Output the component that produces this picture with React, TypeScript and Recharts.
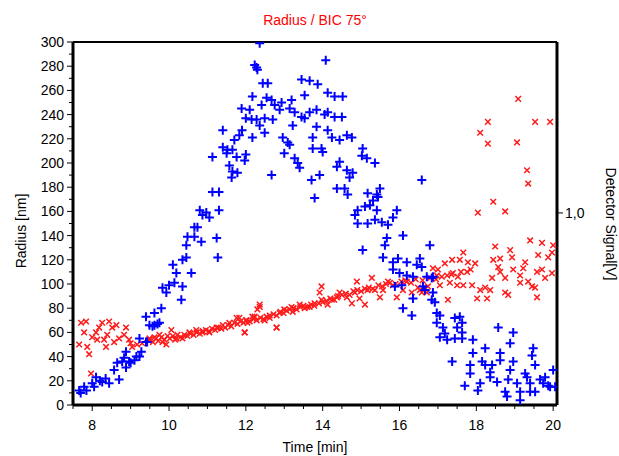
import { ScatterChart, Scatter, XAxis, YAxis, ReferenceLine } from 'recharts'

// blue "+" series: time [min], radius [nm]
const blueTime = [
  7.66, 7.79, 8.0, 8.1, 8.26, 8.44, 8.7, 8.57, 8.65, 8.78, 8.88, 9.0, 9.1, 9.23, 9.28, 8.88, 8.83, 9.23, 9.4, 9.49,
  9.62, 9.75, 9.4, 9.8, 9.83, 9.93, 10.0, 10.14, 10.35, 10.32, 10.19, 10.1, 10.35, 10.45, 10.58, 10.45, 10.48, 10.66, 10.84, 10.66,
  10.74, 10.87, 11.05, 10.8, 11.3, 11.24, 11.27, 12.28, 12.17, 11.89, 12.1, 12.0, 12.15, 12.28, 11.4, 11.9, 11.83, 12.17, 11.7, 11.4,
  11.52, 11.65, 11.5, 11.13, 11.76, 12.0, 11.97, 11.57, 11.65, 11.78, 11.63, 11.13, 11.3, 10.97, 12.36, 12.23, 12.3, 12.44, 12.57, 12.54,
  12.67, 12.41, 12.75, 12.93, 13.19, 12.88, 13.14, 13.27, 12.49, 12.7, 12.36, 13.45, 13.53, 13.66, 13.84, 13.53, 13.45, 13.66, 13.87, 14.08,
  14.13, 14.31, 14.52, 14.05, 14.13, 14.31, 14.5, 13.22, 13.84, 12.49, 12.96, 13.09, 13.14, 13.74, 13.74, 13.97, 14.0, 13.0, 14.13, 14.24,
  14.44, 14.63, 14.76, 15.04, 15.02, 15.15, 15.36, 13.27, 13.35, 13.4, 12.67, 13.71, 13.92, 14.37, 14.44, 14.63, 14.78, 14.7, 14.37, 14.57,
  14.65, 13.79, 15.17, 15.41, 15.49, 15.44, 15.31, 15.23, 15.1, 14.91, 14.84, 15.41, 15.93, 16.58, 14.91, 15.17, 15.36, 15.54, 15.7, 15.83,
  16.09, 15.67, 15.62, 15.04, 15.57, 16.79, 15.83, 15.96, 16.19, 16.53, 16.45, 16.58, 15.83, 16.0, 16.19, 16.35, 16.71, 16.84, 15.88, 16.06,
  16.61, 16.35, 16.84, 16.09, 16.32, 16.97, 16.97, 17.05, 16.87, 16.66, 16.87, 16.92, 17.05, 17.13, 17.18, 17.24, 17.44, 17.57, 17.63, 17.5,
  17.63, 17.44, 17.63, 17.91, 17.37, 17.91, 18.23, 18.57, 18.96, 18.88, 18.62, 17.84, 18.15, 18.23, 18.41, 18.62, 18.96, 19.48, 19.45, 19.53,
  20.0, 17.84, 18.36, 18.36, 18.88, 19.27, 19.32, 19.79, 17.7, 18.1, 18.04, 18.54, 18.83, 19.06, 19.4, 19.66, 19.74, 19.87, 20.05, 18.75,
  18.8, 19.14, 19.14, 19.4, 19.53, 19.92, 9.57, 9.7, 9.62, 9.43, 9.15, 8.96, 7.7, 7.85, 8.05, 8.2, 8.35,
]
const blueRadius = [
  12, 15, 18, 23, 19, 18, 21, 29, 35, 36, 31, 35, 37, 40, 44, 44, 39, 55, 52, 66,
  66, 68, 73, 80, 97, 93, 99, 101, 98, 87, 109, 116, 120, 122, 109, 132, 139, 139, 135, 147,
  147, 157, 155, 161, 161, 138, 122, 279, 255, 245, 244, 237, 236, 236, 227, 227, 223, 221, 219, 213,
  211, 211, 208, 205, 205, 207, 202, 198, 193, 192, 188, 176, 176, 159, 299, 281, 277, 266, 266, 254,
  252, 248, 248, 250, 252, 244, 245, 242, 237, 236, 231, 238, 237, 242, 244, 256, 269, 268, 265, 285,
  258, 255, 255, 240, 242, 238, 238, 231, 230, 225, 221, 217, 215, 221, 212, 212, 209, 208, 227, 221,
  219, 223, 221, 212, 206, 204, 200, 204, 200, 196, 190, 186, 190, 197, 201, 194, 192, 188, 179, 179,
  174, 171, 175, 174, 179, 172, 169, 165, 164, 161, 157, 161, 161, 186, 150, 150, 153, 151, 149, 155,
  140, 138, 132, 128, 122, 132, 118, 121, 118, 121, 116, 114, 112, 109, 107, 106, 106, 105, 98, 99,
  98, 88, 87, 80, 74, 76, 68, 56, 106, 95, 93, 85, 74, 64, 59, 54, 72, 73, 68, 64,
  60, 55, 55, 54, 36, 43, 47, 64, 60, 51, 43, 33, 36, 33, 33, 37, 36, 47, 41, 33,
  29, 26, 27, 23, 29, 26, 23, 23, 16, 18, 12, 19, 21, 18, 18, 21, 18, 16, 15, 11,
  7, 11, 4, 11, 11, 15, 65, 67, 76, 52, 40, 36, 10, 12, 15, 20, 22,
]

// red "x" series: time [min], radius [nm]
const redTime = [
  7.71, 7.84, 7.79, 7.66, 7.87, 7.92, 8.0, 8.1, 8.13, 8.18, 8.26, 8.31, 8.39, 8.44, 8.52, 8.63, 8.36, 8.57, 8.7, 8.88,
  8.83, 8.96, 9.0, 9.04, 9.17, 9.3, 9.49, 9.62, 9.75, 9.93, 9.83, 10.06, 10.19, 10.35, 10.53, 10.71, 10.87, 11.05, 11.24, 11.4,
  11.57, 11.76, 11.97, 12.0, 12.17, 12.3, 7.97, 11.83, 12.04, 12.23, 12.36, 12.49, 12.62, 12.8, 12.88, 13.0, 13.19, 13.22, 13.4, 13.53,
  13.66, 13.79, 13.97, 13.97, 13.92, 14.13, 14.24, 14.37, 14.44, 14.63, 14.76, 14.84, 14.89, 14.96, 15.1, 15.17, 15.28, 15.36, 15.49, 15.57,
  15.7, 15.83, 15.93, 16.09, 16.19, 16.32, 16.48, 16.58, 16.74, 16.87, 16.97, 18.49, 19.4, 19.71, 20.0, 17.37, 17.66, 17.57, 17.78, 17.97,
  18.44, 18.62, 18.88, 18.93, 19.27, 19.61, 19.87, 19.97, 18.57, 18.62, 18.96, 19.22, 17.18, 17.0, 17.24, 17.39, 17.76, 17.52, 17.66, 17.5,
  17.05, 17.31, 17.89, 18.1, 18.23, 18.36, 18.02, 18.28, 18.41, 18.75, 18.75, 18.83, 19.14, 19.14, 19.35, 19.45, 19.53, 19.58, 19.58, 19.71,
  19.79, 19.97, 17.26, 16.71, 16.53, 18.04, 18.75, 19.09, 18.3, 19.53, 19.92, 18.1, 18.3, 19.06, 19.32, 19.35, 18.44,
  9.5, 9.58, 9.66, 9.72, 9.8, 9.88, 9.96, 10.02, 10.1, 10.16, 10.22, 10.3, 10.4, 10.48, 10.56, 10.64, 10.72, 10.8, 10.88, 10.96,
  11.04, 11.12, 11.2, 11.28, 11.36, 11.46, 11.54, 11.62, 11.7, 11.78, 11.86, 11.94, 12.02, 12.1, 12.2, 12.28, 12.38, 12.46, 12.54, 12.62,
  12.72, 12.8, 12.9, 12.98, 13.06, 13.14, 13.24, 13.32, 13.42, 13.5, 13.6, 13.7, 13.78, 13.9, 14.0, 14.1, 14.2, 14.3, 14.4, 14.5,
  14.6, 14.7, 14.8, 14.9, 15.0, 15.1, 15.2, 15.3, 15.45, 15.55, 15.65, 15.75, 15.9, 16.05, 16.15, 16.3, 16.42, 16.6, 16.8, 16.95,
  17.1, 17.35, 17.6, 17.85, 12.36, 12.8, 11.97,
]
const redRadius = [
  68, 69, 60, 50, 48, 42, 56, 60, 54, 64, 68, 54, 58, 69, 64, 66, 48, 52, 55, 64,
  58, 54, 51, 48, 50, 51, 55, 56, 58, 50, 52, 62, 55, 55, 60, 62, 60, 60, 64, 66,
  68, 72, 60, 70, 73, 79, 26, 72, 68, 73, 81, 70, 72, 64, 76, 79, 81, 77, 83, 80,
  81, 84, 87, 98, 93, 83, 87, 89, 93, 89, 84, 93, 102, 88, 83, 95, 105, 95, 89, 95,
  102, 99, 89, 95, 102, 93, 97, 93, 98, 113, 107, 131, 136, 134, 132, 120, 126, 120, 118, 117,
  120, 121, 128, 122, 118, 124, 122, 126, 114, 110, 112, 113, 117, 112, 107, 109, 110, 106, 99, 99,
  99, 101, 99, 95, 97, 95, 88, 88, 105, 105, 93, 91, 107, 101, 102, 98, 97, 89, 110, 112,
  105, 109, 87, 93, 95, 159, 160, 253, 234, 234, 234, 225, 216, 217, 194, 183, 168,
  54, 52, 55, 53, 56, 54, 57, 55, 57, 54, 58, 56, 58, 57, 59, 58, 60, 59, 61, 62,
  61, 63, 62, 64, 63, 64, 66, 65, 68, 67, 69, 68, 70, 69, 71, 70, 72, 71, 73, 74,
  75, 74, 77, 76, 78, 79, 80, 79, 81, 82, 81, 83, 82, 84, 85, 86, 88, 87, 90, 91,
  92, 91, 94, 95, 94, 96, 97, 96, 99, 98, 100, 101, 100, 102, 103, 101, 104, 103, 105, 104,
  106, 108, 110, 112, 83, 64, 60,
]

const xTicks = [7.5, 8, 8.5, 9, 9.5, 10, 10.5, 11, 11.5, 12, 12.5, 13, 13.5, 14, 14.5, 15, 15.5, 16, 16.5, 17, 17.5, 18, 18.5, 19, 19.5, 20]
const xLabels = [8, 10, 12, 14, 16, 18, 20]
const yTicks = [0, 10, 20, 30, 40, 50, 60, 70, 80, 90, 100, 110, 120, 130, 140, 150, 160, 170, 180, 190, 200, 210, 220, 230, 240, 250, 260, 270, 280, 290, 300]
const rightTicks = [1]

const blueData = blueTime.map((t, i) => ({ t, r: blueRadius[i] }))
const redData = redTime.map((t, i) => ({ t, r: redRadius[i] }))

const FONT = '"Liberation Sans", Arial, sans-serif'

function PlusMark(props: any) {
  const { cx, cy } = props
  return <path d={`M${cx - 4.5},${cy}h9M${cx},${cy - 4.5}v9`} stroke="#0000ff" strokeWidth={2} fill="none" />
}

function CrossMark(props: any) {
  const { cx, cy } = props
  return (
    <path
      d={`M${cx - 2.8},${cy - 2.8}l5.6,5.6M${cx + 2.8},${cy - 2.8}l-5.6,5.6`}
      stroke="#ff1a1a"
      strokeWidth={1.5}
      fill="none"
    />
  )
}

function TimeTick({ x, y, payload }: any) {
  const v = payload.value
  const major = xLabels.includes(v)
  return (
    <g>
      <line x1={x} x2={x} y1={y} y2={y + (major ? 6 : 4)} stroke="#000" />
      {major && (
        <text x={x} y={y + 25} textAnchor="middle" fontSize={14} fontFamily={FONT} fill="#000">
          {v}
        </text>
      )}
    </g>
  )
}

function RadiusTick({ x, y, payload }: any) {
  const v = payload.value
  const major = v % 20 === 0
  return (
    <g>
      <line x1={x} x2={x - (major ? 6 : 4)} y1={y} y2={y} stroke="#000" />
      {major && (
        <text x={x - 9} y={y + 5} textAnchor="end" fontSize={14} fontFamily={FONT} fill="#000">
          {v}
        </text>
      )}
    </g>
  )
}

function SignalTick({ x, y, payload }: any) {
  return (
    <g>
      <line x1={x} x2={x + 6} y1={y} y2={y} stroke="#000" />
      <text x={x + 8} y={y + 5} textAnchor="start" fontSize={14} fontFamily={FONT} fill="#000">
        {payload.value.toFixed(1).replace('.', ',')}
      </text>
    </g>
  )
}

export default function App() {
  return (
    <div style={{ position: 'absolute', left: 0, top: 0, width: 619, height: 456, background: '#fff' }}>
      <ScatterChart width={619} height={456} margin={{ top: 42, right: 0, bottom: 0, left: 28 }}>
        <XAxis
          type="number"
          dataKey="t"
          domain={[7.5, 20.1]}
          ticks={xTicks}
          interval={0}
          height={51}
          tickSize={0}
          tickMargin={0}
          tickLine={false}
          tick={<TimeTick />}
          axisLine={{ stroke: '#000', strokeWidth: 3 }}
          allowDataOverflow
        />
        <YAxis
          yAxisId="left"
          type="number"
          dataKey="r"
          domain={[0, 300]}
          ticks={yTicks}
          interval={0}
          width={45}
          tickSize={0}
          tickMargin={0}
          tickLine={false}
          tick={<RadiusTick />}
          axisLine={{ stroke: '#000', strokeWidth: 3 }}
          allowDataOverflow
        />
        <YAxis
          yAxisId="right"
          orientation="right"
          type="number"
          domain={[0, 1.89]}
          ticks={rightTicks}
          width={62}
          tickSize={0}
          tickMargin={0}
          tickLine={false}
          tick={<SignalTick />}
          axisLine={{ stroke: '#000', strokeWidth: 3 }}
          allowDataOverflow
        />
        <ReferenceLine yAxisId="left" y={300} stroke="#000" strokeWidth={2} />
        <Scatter yAxisId="left" data={redData} shape={<CrossMark />} isAnimationActive={false} />
        <Scatter yAxisId="left" data={blueData} shape={<PlusMark />} isAnimationActive={false} />
      </ScatterChart>
      <svg width={619} height={456} style={{ position: 'absolute', left: 0, top: 0, pointerEvents: 'none' }}>
        <text x={315} y={25} textAnchor="middle" fontSize={14} fontFamily={FONT} fill="#ff0000">
          Radius / BIC 75°
        </text>
        <text x={315} y={452} textAnchor="middle" fontSize={14} fontFamily={FONT} fill="#000">
          Time [min]
        </text>
        <text
          transform="translate(26,231) rotate(-90)"
          textAnchor="middle"
          fontSize={14}
          fontFamily={FONT}
          fill="#000"
        >
          Radius [nm]
        </text>
        <text
          transform="translate(606,224) rotate(90)"
          textAnchor="middle"
          fontSize={14}
          fontFamily={FONT}
          fill="#000"
        >
          Detector Signal[V]
        </text>
      </svg>
    </div>
  )
}
